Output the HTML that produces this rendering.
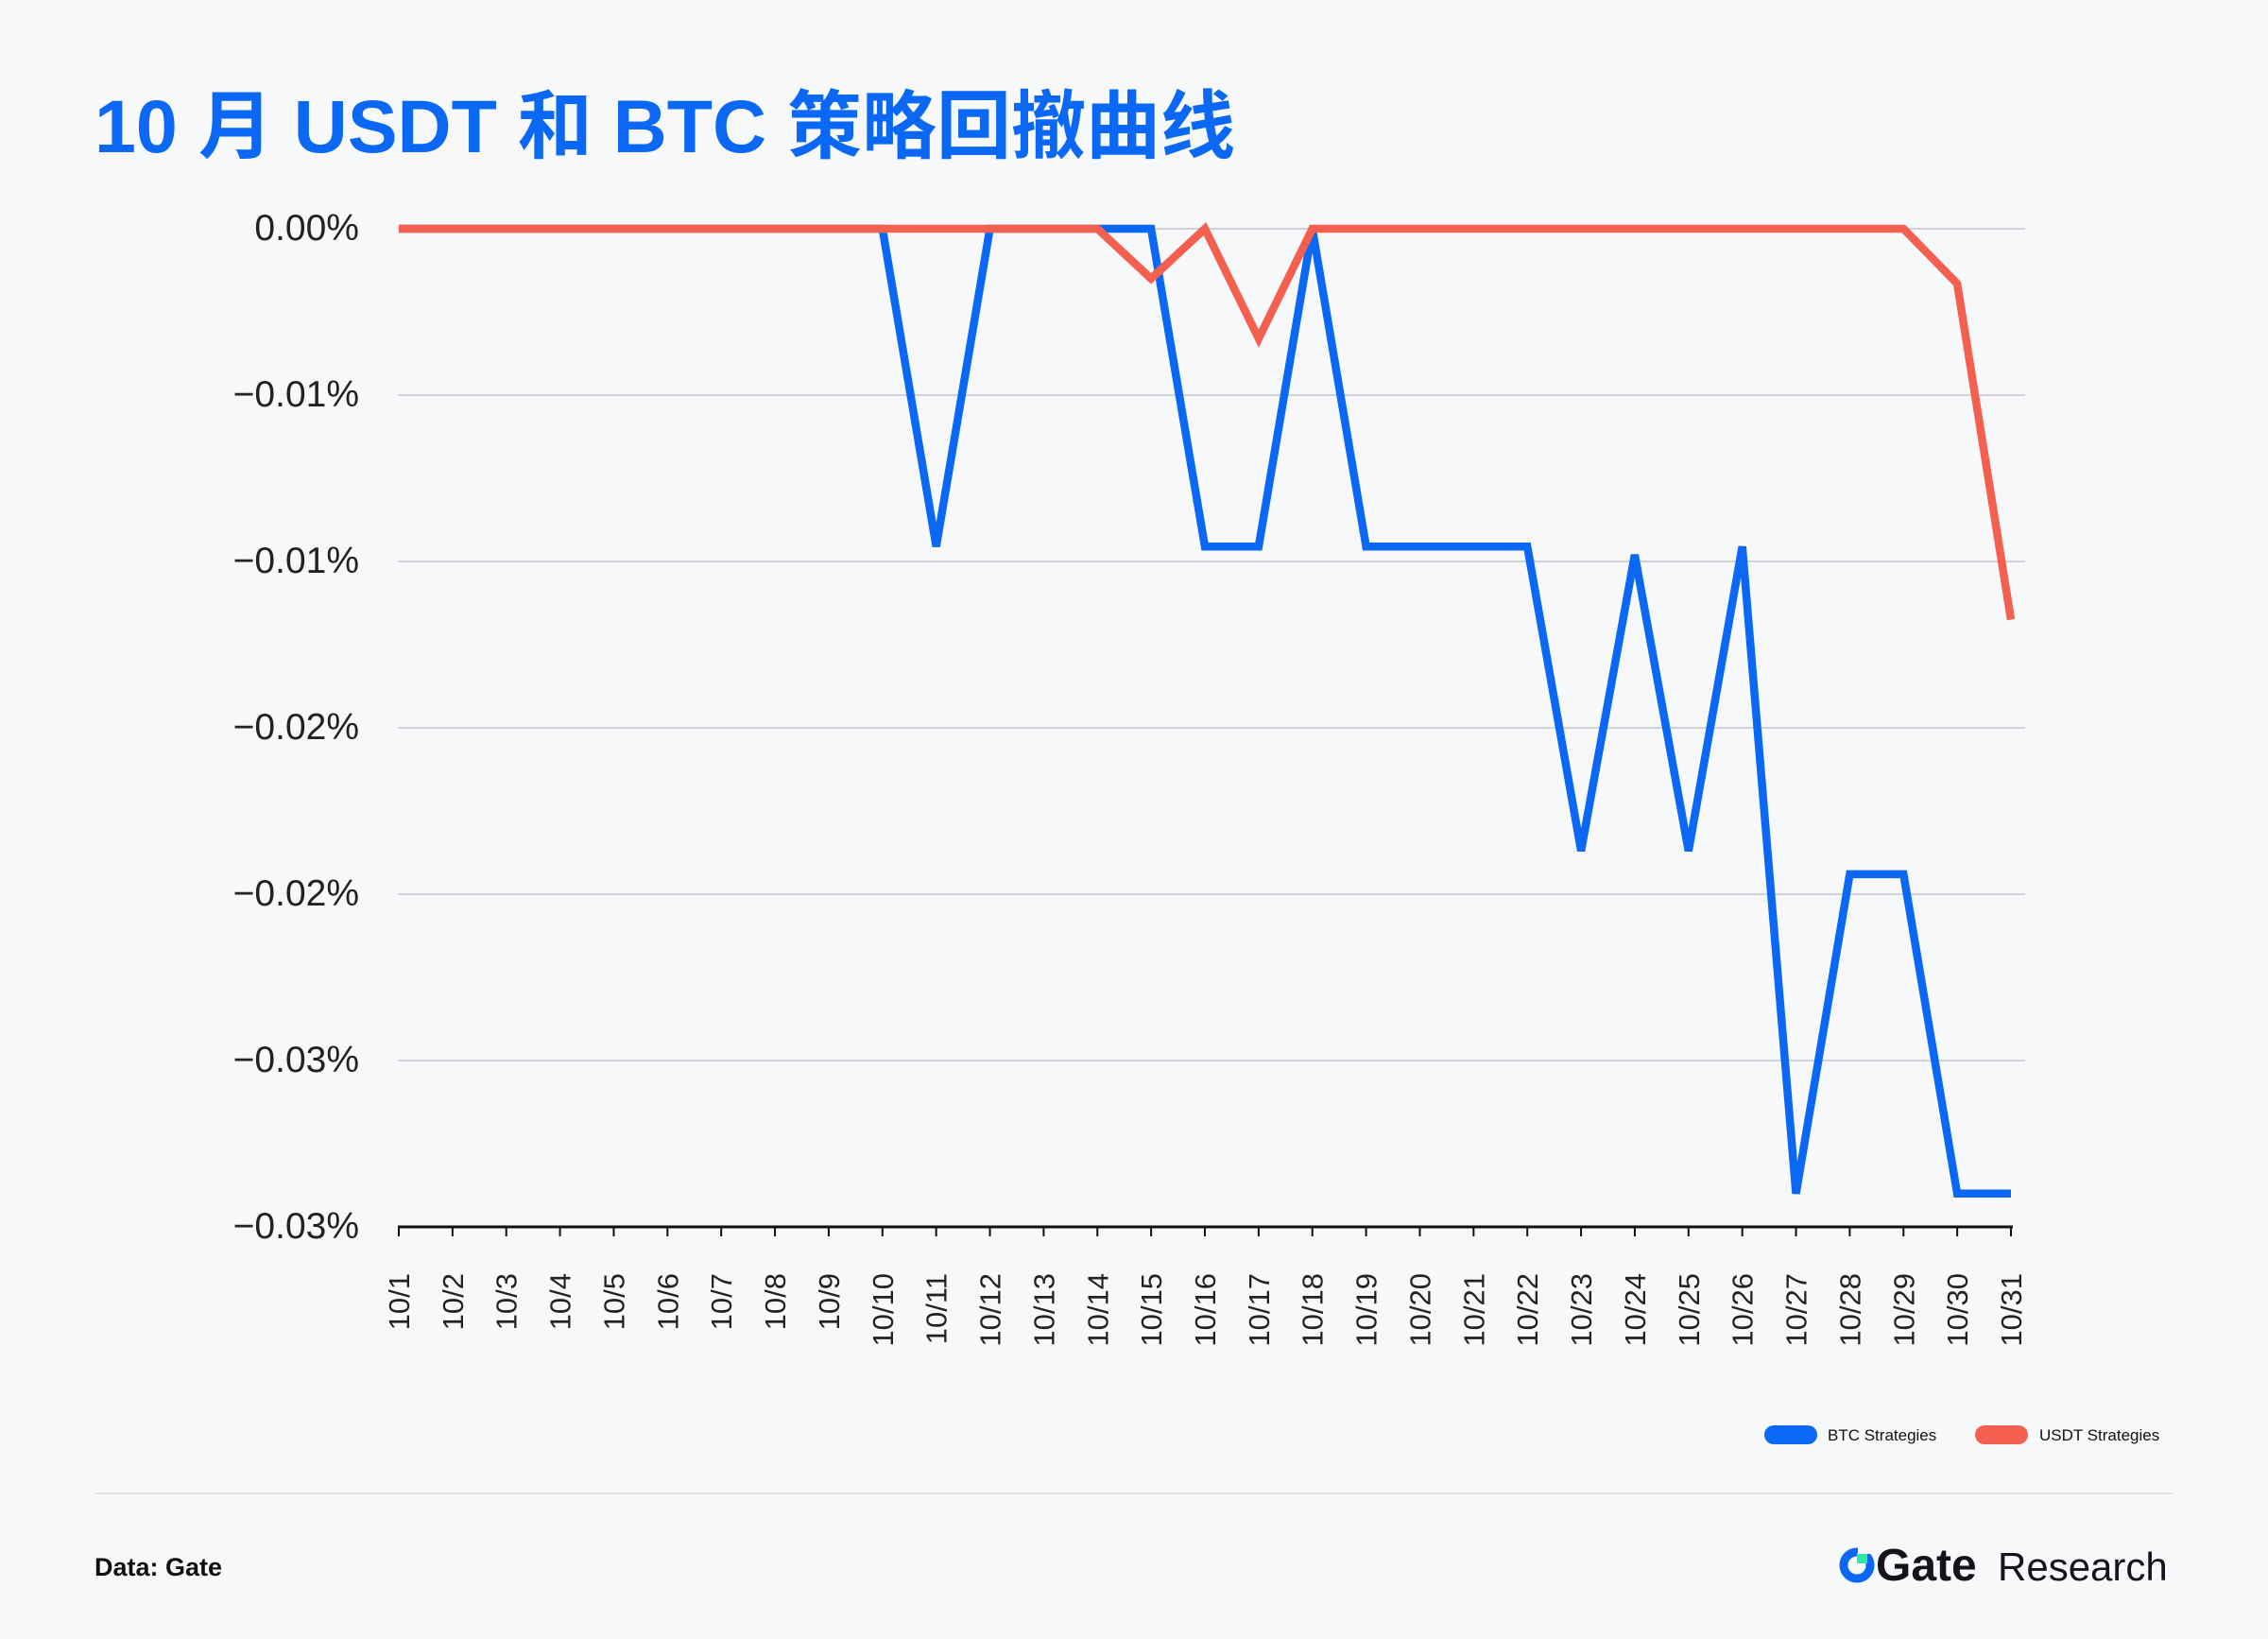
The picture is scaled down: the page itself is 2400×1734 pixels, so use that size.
<!DOCTYPE html>
<html><head><meta charset="utf-8"><style>
html,body{margin:0;padding:0;background:#f7f8fa;}
svg{display:block}
</style></head><body>
<svg width="2400" height="1734" viewBox="0 0 2400 1734" xmlns="http://www.w3.org/2000/svg" font-family="Liberation Sans, Noto Sans CJK SC, sans-serif">
<rect width="2400" height="1734" fill="#f7f8fa"/>
<text x="100" y="161" font-size="79" font-weight="bold" fill="#0a68f4" font-family="Liberation Sans, Noto Sans CJK SC, sans-serif">10 月 USDT 和 BTC 策略回撤曲线</text>
<g stroke="#cfd2d6" stroke-width="2">
<line x1="421" x2="2143" y1="242" y2="242"/>
<line x1="421" x2="2143" y1="418" y2="418"/>
<line x1="421" x2="2143" y1="594" y2="594"/>
<line x1="421" x2="2143" y1="770" y2="770"/>
<line x1="421" x2="2143" y1="946" y2="946"/>
<line x1="421" x2="2143" y1="1122" y2="1122"/>
</g>
<line x1="421" x2="2130" y1="1298" y2="1298" stroke="#111" stroke-width="3"/>
<g font-size="39" fill="#222" text-anchor="end">
<text x="380" y="254">0.00%</text>
<text x="380" y="430">−0.01%</text>
<text x="380" y="606">−0.01%</text>
<text x="380" y="782">−0.02%</text>
<text x="380" y="958">−0.02%</text>
<text x="380" y="1134">−0.03%</text>
<text x="380" y="1310">−0.03%</text>
</g>
<g id="ticks" stroke="#111" stroke-width="2"></g>
<g id="xl" font-size="31" fill="#222"></g>
<polyline id="btc" fill="none" stroke="#0a68f4" stroke-width="8.5" stroke-linejoin="miter"/>
<polyline id="usdt" fill="none" stroke="#f4604f" stroke-width="8.5" stroke-linejoin="miter"/>
<rect x="1867" y="1508" width="56" height="20" rx="10" fill="#0a68f4"/>
<text x="1934" y="1524" font-size="17" fill="#111">BTC Strategies</text>
<rect x="2090" y="1508" width="56" height="20" rx="10" fill="#f4604f"/>
<text x="2158" y="1524" font-size="17" fill="#111">USDT Strategies</text>
<line x1="100" x2="2300" y1="1580" y2="1580" stroke="#e3e5e8" stroke-width="2"/>
<text x="100" y="1667" font-size="27" font-weight="bold" fill="#111">Data: Gate</text>
<circle cx="1965" cy="1656" r="14" fill="none" stroke="#0a68f4" stroke-width="9"/>
<rect x="1965" y="1643" width="11" height="11" fill="#2ee6a6"/>
<rect x="1966" y="1636" width="20" height="8" fill="#f7f8fa"/>
<text x="1985" y="1672" font-size="48" font-weight="bold" fill="#14151a">Gate</text>
<text x="2114" y="1672" font-size="42" fill="#14151a">Research</text>
</svg>
<script>
var x0=422,dx=(2128-422)/30,y0=242,s=176;
var btc=[0,0,0,0,0,0,0,0,0,0,-1.91,0,0,0,0,-1.91,-1.91,0,-1.91,-1.91,-1.91,-1.91,-3.74,-1.96,-3.74,-1.91,-5.8,-3.88,-3.88,-5.8,-5.8];
var us=[0,0,0,0,0,0,0,0,0,0,0,0,0,0,-0.3,0,-0.66,0,0,0,0,0,0,0,0,0,0,0,0,-0.33,-2.35];
function pts(a){return a.map(function(v,i){return (x0+i*dx).toFixed(1)+','+(y0-v*s).toFixed(1)}).join(' ');}
document.getElementById('btc').setAttribute('points',pts(btc));
document.getElementById('usdt').setAttribute('points',pts(us));
var t='',l='';
for(var i=0;i<31;i++){var x=x0+i*dx;t+='<line x1="'+x+'" x2="'+x+'" y1="1298" y2="1308"/>';
l+='<text transform="translate('+(x+11)+',1347) rotate(-90)" text-anchor="end">10/'+(i+1)+'</text>';}
document.getElementById('ticks').innerHTML=t;document.getElementById('xl').innerHTML=l;
</script>
</body></html>
